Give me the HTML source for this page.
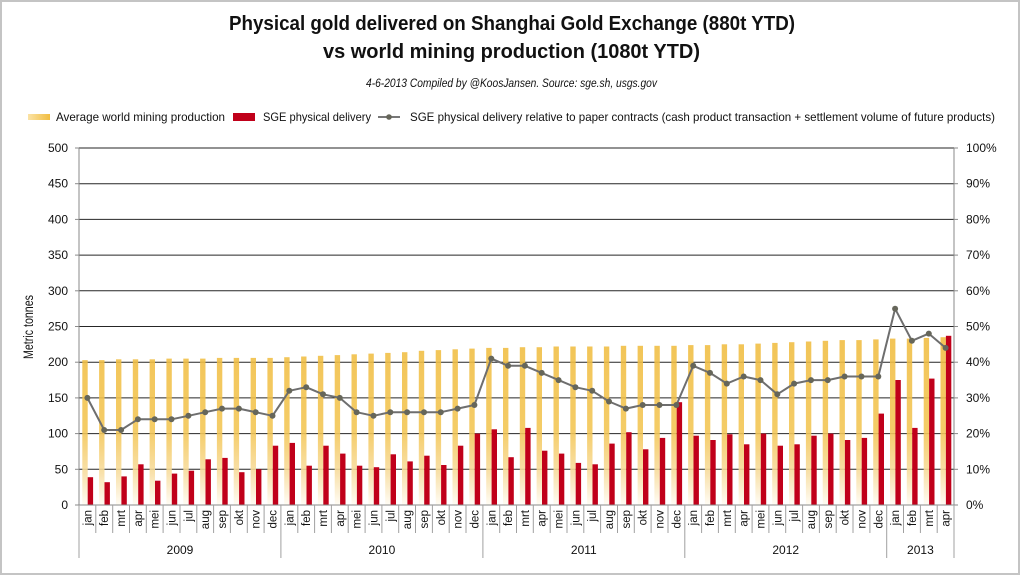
<!DOCTYPE html>
<html><head><meta charset="utf-8"><style>
html,body{margin:0;padding:0;background:#fff;}
svg{display:block;}
text{font-family:"Liberation Sans",sans-serif;fill:#111;}
</style></head><body>
<svg width="1023" height="576" viewBox="0 0 1023 576" xmlns="http://www.w3.org/2000/svg">
<defs>
<linearGradient id="gg" gradientUnits="userSpaceOnUse" x1="0" y1="337" x2="0" y2="505">
<stop offset="0" stop-color="#F1BD40"/>
<stop offset="0.55" stop-color="#F3C552"/>
<stop offset="0.8" stop-color="#F8DC9C"/>
<stop offset="1" stop-color="#FFFCF4"/>
</linearGradient>
<linearGradient id="lg" x1="0" y1="0" x2="1" y2="0">
<stop offset="0" stop-color="#FBE3A6"/>
<stop offset="1" stop-color="#F1BD40"/>
</linearGradient>
</defs>
<rect x="0" y="0" width="1023" height="576" fill="#fff"/>
<rect x="1" y="1" width="1018" height="573" fill="none" stroke="#c4c4c4" stroke-width="2"/>

<!-- Title -->
<text x="512" y="30" text-anchor="middle" font-size="20" font-weight="bold" textLength="566" lengthAdjust="spacingAndGlyphs">Physical gold delivered on Shanghai Gold Exchange (880t YTD)</text>
<text x="511.5" y="58" text-anchor="middle" font-size="20" font-weight="bold" textLength="377" lengthAdjust="spacingAndGlyphs">vs world mining production (1080t YTD)</text>
<text x="511.5" y="87" text-anchor="middle" font-size="11.5" font-style="italic" textLength="291" lengthAdjust="spacingAndGlyphs">4-6-2013 Compiled by @KoosJansen. Source: sge.sh, usgs.gov</text>

<!-- Legend -->
<rect x="28" y="114" width="22" height="6" fill="url(#lg)"/>
<text x="56" y="121" font-size="12" textLength="169" lengthAdjust="spacingAndGlyphs">Average world mining production</text>
<rect x="233" y="113" width="22" height="8" fill="#C0001A"/>
<text x="263" y="121" font-size="12" textLength="108" lengthAdjust="spacingAndGlyphs">SGE physical delivery</text>
<line x1="378" y1="117" x2="400" y2="117" stroke="#777" stroke-width="2"/>
<circle cx="389" cy="117" r="2.8" fill="#66665a"/>
<text x="410" y="121" font-size="12" textLength="585" lengthAdjust="spacingAndGlyphs">SGE physical delivery relative to paper contracts (cash product transaction + settlement volume of future products)</text>

<!-- Gridlines -->
<g stroke="#262626" stroke-width="1">
<line x1="79" y1="469.3" x2="954" y2="469.3"/>
<line x1="79" y1="433.6" x2="954" y2="433.6"/>
<line x1="79" y1="397.9" x2="954" y2="397.9"/>
<line x1="79" y1="362.2" x2="954" y2="362.2"/>
<line x1="79" y1="326.5" x2="954" y2="326.5"/>
<line x1="79" y1="290.8" x2="954" y2="290.8"/>
<line x1="79" y1="255.1" x2="954" y2="255.1"/>
<line x1="79" y1="219.4" x2="954" y2="219.4"/>
<line x1="79" y1="183.7" x2="954" y2="183.7"/>
<line x1="79" y1="148" x2="954" y2="148"/>
</g>

<!-- Gold bars -->
<g fill="url(#gg)" opacity="0.88">
<rect x="82.3" y="360.1" width="5.4" height="144.9"/>
<rect x="99.1" y="360.1" width="5.4" height="144.9"/>
<rect x="116.0" y="359.3" width="5.4" height="145.7"/>
<rect x="132.8" y="359.3" width="5.4" height="145.7"/>
<rect x="149.6" y="359.3" width="5.4" height="145.7"/>
<rect x="166.4" y="358.6" width="5.4" height="146.4"/>
<rect x="183.3" y="358.6" width="5.4" height="146.4"/>
<rect x="200.1" y="358.6" width="5.4" height="146.4"/>
<rect x="216.9" y="357.9" width="5.4" height="147.1"/>
<rect x="233.7" y="357.9" width="5.4" height="147.1"/>
<rect x="250.6" y="357.9" width="5.4" height="147.1"/>
<rect x="267.4" y="357.9" width="5.4" height="147.1"/>
<rect x="284.2" y="357.2" width="5.4" height="147.8"/>
<rect x="301.1" y="356.5" width="5.4" height="148.5"/>
<rect x="317.9" y="355.8" width="5.4" height="149.2"/>
<rect x="334.7" y="355.1" width="5.4" height="149.9"/>
<rect x="351.5" y="354.3" width="5.4" height="150.7"/>
<rect x="368.4" y="353.6" width="5.4" height="151.4"/>
<rect x="385.2" y="352.9" width="5.4" height="152.1"/>
<rect x="402.0" y="352.2" width="5.4" height="152.8"/>
<rect x="418.8" y="350.8" width="5.4" height="154.2"/>
<rect x="435.7" y="350.1" width="5.4" height="154.9"/>
<rect x="452.5" y="349.3" width="5.4" height="155.7"/>
<rect x="469.3" y="348.6" width="5.4" height="156.4"/>
<rect x="486.2" y="347.9" width="5.4" height="157.1"/>
<rect x="503.0" y="347.9" width="5.4" height="157.1"/>
<rect x="519.8" y="347.2" width="5.4" height="157.8"/>
<rect x="536.6" y="347.2" width="5.4" height="157.8"/>
<rect x="553.5" y="346.5" width="5.4" height="158.5"/>
<rect x="570.3" y="346.5" width="5.4" height="158.5"/>
<rect x="587.1" y="346.5" width="5.4" height="158.5"/>
<rect x="603.9" y="346.5" width="5.4" height="158.5"/>
<rect x="620.8" y="345.8" width="5.4" height="159.2"/>
<rect x="637.6" y="345.8" width="5.4" height="159.2"/>
<rect x="654.4" y="345.8" width="5.4" height="159.2"/>
<rect x="671.3" y="345.8" width="5.4" height="159.2"/>
<rect x="688.1" y="345.1" width="5.4" height="159.9"/>
<rect x="704.9" y="345.1" width="5.4" height="159.9"/>
<rect x="721.7" y="344.3" width="5.4" height="160.7"/>
<rect x="738.6" y="344.3" width="5.4" height="160.7"/>
<rect x="755.4" y="343.6" width="5.4" height="161.4"/>
<rect x="772.2" y="342.9" width="5.4" height="162.1"/>
<rect x="789.0" y="342.2" width="5.4" height="162.8"/>
<rect x="805.9" y="341.5" width="5.4" height="163.5"/>
<rect x="822.7" y="340.8" width="5.4" height="164.2"/>
<rect x="839.5" y="340.1" width="5.4" height="164.9"/>
<rect x="856.3" y="340.1" width="5.4" height="164.9"/>
<rect x="873.2" y="339.4" width="5.4" height="165.6"/>
<rect x="890.0" y="338.6" width="5.4" height="166.4"/>
<rect x="906.8" y="338.6" width="5.4" height="166.4"/>
<rect x="923.7" y="337.9" width="5.4" height="167.1"/>
<rect x="940.5" y="337.2" width="5.4" height="167.8"/>
</g>

<!-- Red bars -->
<g fill="#C0001A">
<rect x="87.7" y="477.2" width="5.4" height="27.8"/>
<rect x="104.5" y="482.2" width="5.4" height="22.8"/>
<rect x="121.4" y="476.4" width="5.4" height="28.6"/>
<rect x="138.2" y="464.3" width="5.4" height="40.7"/>
<rect x="155.0" y="480.7" width="5.4" height="24.3"/>
<rect x="171.8" y="473.6" width="5.4" height="31.4"/>
<rect x="188.7" y="470.7" width="5.4" height="34.3"/>
<rect x="205.5" y="459.3" width="5.4" height="45.7"/>
<rect x="222.3" y="457.9" width="5.4" height="47.1"/>
<rect x="239.1" y="472.2" width="5.4" height="32.8"/>
<rect x="256.0" y="469.3" width="5.4" height="35.7"/>
<rect x="272.8" y="445.7" width="5.4" height="59.3"/>
<rect x="289.6" y="442.9" width="5.4" height="62.1"/>
<rect x="306.5" y="465.7" width="5.4" height="39.3"/>
<rect x="323.3" y="445.7" width="5.4" height="59.3"/>
<rect x="340.1" y="453.6" width="5.4" height="51.4"/>
<rect x="356.9" y="465.7" width="5.4" height="39.3"/>
<rect x="373.8" y="467.2" width="5.4" height="37.8"/>
<rect x="390.6" y="454.3" width="5.4" height="50.7"/>
<rect x="407.4" y="461.4" width="5.4" height="43.6"/>
<rect x="424.2" y="455.7" width="5.4" height="49.3"/>
<rect x="441.1" y="465.0" width="5.4" height="40.0"/>
<rect x="457.9" y="445.7" width="5.4" height="59.3"/>
<rect x="474.7" y="433.6" width="5.4" height="71.4"/>
<rect x="491.6" y="429.3" width="5.4" height="75.7"/>
<rect x="508.4" y="457.2" width="5.4" height="47.8"/>
<rect x="525.2" y="427.9" width="5.4" height="77.1"/>
<rect x="542.0" y="450.7" width="5.4" height="54.3"/>
<rect x="558.9" y="453.6" width="5.4" height="51.4"/>
<rect x="575.7" y="462.9" width="5.4" height="42.1"/>
<rect x="592.5" y="464.3" width="5.4" height="40.7"/>
<rect x="609.3" y="443.6" width="5.4" height="61.4"/>
<rect x="626.2" y="432.2" width="5.4" height="72.8"/>
<rect x="643.0" y="449.3" width="5.4" height="55.7"/>
<rect x="659.8" y="437.9" width="5.4" height="67.1"/>
<rect x="676.7" y="402.2" width="5.4" height="102.8"/>
<rect x="693.5" y="435.7" width="5.4" height="69.3"/>
<rect x="710.3" y="440.0" width="5.4" height="65.0"/>
<rect x="727.1" y="434.3" width="5.4" height="70.7"/>
<rect x="744.0" y="444.3" width="5.4" height="60.7"/>
<rect x="760.8" y="433.6" width="5.4" height="71.4"/>
<rect x="777.6" y="445.7" width="5.4" height="59.3"/>
<rect x="794.4" y="444.3" width="5.4" height="60.7"/>
<rect x="811.3" y="435.7" width="5.4" height="69.3"/>
<rect x="828.1" y="433.6" width="5.4" height="71.4"/>
<rect x="844.9" y="440.0" width="5.4" height="65.0"/>
<rect x="861.7" y="437.9" width="5.4" height="67.1"/>
<rect x="878.6" y="413.6" width="5.4" height="91.4"/>
<rect x="895.4" y="380.0" width="5.4" height="125.0"/>
<rect x="912.2" y="427.9" width="5.4" height="77.1"/>
<rect x="929.1" y="378.6" width="5.4" height="126.4"/>
<rect x="945.9" y="335.8" width="5.4" height="169.2"/>
</g>

<!-- Axes -->
<g stroke="#8a8a8a" stroke-width="1">
<line x1="79" y1="148" x2="79" y2="505"/>
<line x1="954" y1="148" x2="954" y2="505"/>
<line x1="79" y1="505" x2="954" y2="505"/>
<line x1="75" y1="148" x2="79" y2="148"/><line x1="75" y1="183.7" x2="79" y2="183.7"/><line x1="75" y1="219.4" x2="79" y2="219.4"/><line x1="75" y1="255.1" x2="79" y2="255.1"/><line x1="75" y1="290.8" x2="79" y2="290.8"/><line x1="75" y1="326.5" x2="79" y2="326.5"/><line x1="75" y1="362.2" x2="79" y2="362.2"/><line x1="75" y1="397.9" x2="79" y2="397.9"/><line x1="75" y1="433.6" x2="79" y2="433.6"/><line x1="75" y1="469.3" x2="79" y2="469.3"/><line x1="75" y1="505" x2="79" y2="505"/>
<line x1="954" y1="148" x2="958" y2="148"/><line x1="954" y1="183.7" x2="958" y2="183.7"/><line x1="954" y1="219.4" x2="958" y2="219.4"/><line x1="954" y1="255.1" x2="958" y2="255.1"/><line x1="954" y1="290.8" x2="958" y2="290.8"/><line x1="954" y1="326.5" x2="958" y2="326.5"/><line x1="954" y1="362.2" x2="958" y2="362.2"/><line x1="954" y1="397.9" x2="958" y2="397.9"/><line x1="954" y1="433.6" x2="958" y2="433.6"/><line x1="954" y1="469.3" x2="958" y2="469.3"/><line x1="954" y1="505" x2="958" y2="505"/>
</g>

<!-- Category separators -->
<g stroke="#a0a0a0" stroke-width="1">
<line x1="79" y1="505" x2="79" y2="558"/>
<line x1="95.8" y1="505" x2="95.8" y2="533"/><line x1="112.7" y1="505" x2="112.7" y2="533"/><line x1="129.5" y1="505" x2="129.5" y2="533"/><line x1="146.3" y1="505" x2="146.3" y2="533"/><line x1="163.1" y1="505" x2="163.1" y2="533"/><line x1="180.0" y1="505" x2="180.0" y2="533"/><line x1="196.8" y1="505" x2="196.8" y2="533"/><line x1="213.6" y1="505" x2="213.6" y2="533"/><line x1="230.4" y1="505" x2="230.4" y2="533"/><line x1="247.3" y1="505" x2="247.3" y2="533"/><line x1="264.1" y1="505" x2="264.1" y2="533"/>
<line x1="280.9" y1="505" x2="280.9" y2="558"/>
<line x1="297.8" y1="505" x2="297.8" y2="533"/><line x1="314.6" y1="505" x2="314.6" y2="533"/><line x1="331.4" y1="505" x2="331.4" y2="533"/><line x1="348.2" y1="505" x2="348.2" y2="533"/><line x1="365.1" y1="505" x2="365.1" y2="533"/><line x1="381.9" y1="505" x2="381.9" y2="533"/><line x1="398.7" y1="505" x2="398.7" y2="533"/><line x1="415.5" y1="505" x2="415.5" y2="533"/><line x1="432.4" y1="505" x2="432.4" y2="533"/><line x1="449.2" y1="505" x2="449.2" y2="533"/><line x1="466.0" y1="505" x2="466.0" y2="533"/>
<line x1="482.9" y1="505" x2="482.9" y2="558"/>
<line x1="499.7" y1="505" x2="499.7" y2="533"/><line x1="516.5" y1="505" x2="516.5" y2="533"/><line x1="533.3" y1="505" x2="533.3" y2="533"/><line x1="550.2" y1="505" x2="550.2" y2="533"/><line x1="567.0" y1="505" x2="567.0" y2="533"/><line x1="583.8" y1="505" x2="583.8" y2="533"/><line x1="600.6" y1="505" x2="600.6" y2="533"/><line x1="617.5" y1="505" x2="617.5" y2="533"/><line x1="634.3" y1="505" x2="634.3" y2="533"/><line x1="651.1" y1="505" x2="651.1" y2="533"/><line x1="668.0" y1="505" x2="668.0" y2="533"/>
<line x1="684.8" y1="505" x2="684.8" y2="558"/>
<line x1="701.6" y1="505" x2="701.6" y2="533"/><line x1="718.4" y1="505" x2="718.4" y2="533"/><line x1="735.3" y1="505" x2="735.3" y2="533"/><line x1="752.1" y1="505" x2="752.1" y2="533"/><line x1="768.9" y1="505" x2="768.9" y2="533"/><line x1="785.7" y1="505" x2="785.7" y2="533"/><line x1="802.6" y1="505" x2="802.6" y2="533"/><line x1="819.4" y1="505" x2="819.4" y2="533"/><line x1="836.2" y1="505" x2="836.2" y2="533"/><line x1="853.0" y1="505" x2="853.0" y2="533"/><line x1="869.9" y1="505" x2="869.9" y2="533"/>
<line x1="886.7" y1="505" x2="886.7" y2="558"/>
<line x1="903.5" y1="505" x2="903.5" y2="533"/><line x1="920.4" y1="505" x2="920.4" y2="533"/><line x1="937.2" y1="505" x2="937.2" y2="533"/>
<line x1="954" y1="505" x2="954" y2="558"/>
</g>

<!-- Line series -->
<polyline fill="none" stroke="#6e6e6e" stroke-width="2" stroke-linejoin="round" points="87.4,397.9 104.2,430.0 121.1,430.0 137.9,419.3 154.7,419.3 171.5,419.3 188.4,415.8 205.2,412.2 222.0,408.6 238.9,408.6 255.7,412.2 272.5,415.8 289.3,390.8 306.2,387.2 323.0,394.3 339.8,397.9 356.6,412.2 373.5,415.8 390.3,412.2 407.1,412.2 424.0,412.2 440.8,412.2 457.6,408.6 474.4,405.0 491.3,358.6 508.1,365.8 524.9,365.8 541.7,372.9 558.6,380.1 575.4,387.2 592.2,390.8 609.0,401.5 625.9,408.6 642.7,405.0 659.5,405.0 676.4,405.0 693.2,365.8 710.0,372.9 726.8,383.6 743.7,376.5 760.5,380.1 777.3,394.3 794.1,383.6 811.0,380.1 827.8,380.1 844.6,376.5 861.5,376.5 878.3,376.5 895.1,308.7 911.9,340.8 928.8,333.6 945.6,347.9"/>
<g fill="#66665a">
<circle cx="87.4" cy="397.9" r="3"/><circle cx="104.2" cy="430.0" r="3"/><circle cx="121.1" cy="430.0" r="3"/><circle cx="137.9" cy="419.3" r="3"/><circle cx="154.7" cy="419.3" r="3"/><circle cx="171.5" cy="419.3" r="3"/><circle cx="188.4" cy="415.8" r="3"/><circle cx="205.2" cy="412.2" r="3"/><circle cx="222.0" cy="408.6" r="3"/><circle cx="238.9" cy="408.6" r="3"/><circle cx="255.7" cy="412.2" r="3"/><circle cx="272.5" cy="415.8" r="3"/>
<circle cx="289.3" cy="390.8" r="3"/><circle cx="306.2" cy="387.2" r="3"/><circle cx="323.0" cy="394.3" r="3"/><circle cx="339.8" cy="397.9" r="3"/><circle cx="356.6" cy="412.2" r="3"/><circle cx="373.5" cy="415.8" r="3"/><circle cx="390.3" cy="412.2" r="3"/><circle cx="407.1" cy="412.2" r="3"/><circle cx="424.0" cy="412.2" r="3"/><circle cx="440.8" cy="412.2" r="3"/><circle cx="457.6" cy="408.6" r="3"/><circle cx="474.4" cy="405.0" r="3"/>
<circle cx="491.3" cy="358.6" r="3"/><circle cx="508.1" cy="365.8" r="3"/><circle cx="524.9" cy="365.8" r="3"/><circle cx="541.7" cy="372.9" r="3"/><circle cx="558.6" cy="380.1" r="3"/><circle cx="575.4" cy="387.2" r="3"/><circle cx="592.2" cy="390.8" r="3"/><circle cx="609.0" cy="401.5" r="3"/><circle cx="625.9" cy="408.6" r="3"/><circle cx="642.7" cy="405.0" r="3"/><circle cx="659.5" cy="405.0" r="3"/><circle cx="676.4" cy="405.0" r="3"/>
<circle cx="693.2" cy="365.8" r="3"/><circle cx="710.0" cy="372.9" r="3"/><circle cx="726.8" cy="383.6" r="3"/><circle cx="743.7" cy="376.5" r="3"/><circle cx="760.5" cy="380.1" r="3"/><circle cx="777.3" cy="394.3" r="3"/><circle cx="794.1" cy="383.6" r="3"/><circle cx="811.0" cy="380.1" r="3"/><circle cx="827.8" cy="380.1" r="3"/><circle cx="844.6" cy="376.5" r="3"/><circle cx="861.5" cy="376.5" r="3"/><circle cx="878.3" cy="376.5" r="3"/>
<circle cx="895.1" cy="308.7" r="3"/><circle cx="911.9" cy="340.8" r="3"/><circle cx="928.8" cy="333.6" r="3"/><circle cx="945.6" cy="347.9" r="3"/>
</g>

<!-- Left axis labels -->
<g font-size="12" text-anchor="end">
<text x="68" y="152">500</text>
<text x="68" y="187.7">450</text>
<text x="68" y="223.4">400</text>
<text x="68" y="259.1">350</text>
<text x="68" y="294.8">300</text>
<text x="68" y="330.5">250</text>
<text x="68" y="366.2">200</text>
<text x="68" y="401.9">150</text>
<text x="68" y="437.6">100</text>
<text x="68" y="473.3">50</text>
<text x="68" y="509">0</text>
</g>
<!-- Right axis labels -->
<g font-size="12" text-anchor="start">
<text x="966" y="152">100%</text>
<text x="966" y="187.7">90%</text>
<text x="966" y="223.4">80%</text>
<text x="966" y="259.1">70%</text>
<text x="966" y="294.8">60%</text>
<text x="966" y="330.5">50%</text>
<text x="966" y="366.2">40%</text>
<text x="966" y="401.9">30%</text>
<text x="966" y="437.6">20%</text>
<text x="966" y="473.3">10%</text>
<text x="966" y="509">0%</text>
</g>
<text transform="translate(33,327) rotate(-90)" text-anchor="middle" font-size="14" textLength="64" lengthAdjust="spacingAndGlyphs">Metric tonnes</text>

<!-- Month labels -->
<g font-size="11.5" text-anchor="end">
<text transform="translate(91.4,510) rotate(-90)">jan</text>
<text transform="translate(108.2,510) rotate(-90)">feb</text>
<text transform="translate(125.1,510) rotate(-90)">mrt</text>
<text transform="translate(141.9,510) rotate(-90)">apr</text>
<text transform="translate(158.7,510) rotate(-90)">mei</text>
<text transform="translate(175.5,510) rotate(-90)">jun</text>
<text transform="translate(192.4,510) rotate(-90)">jul</text>
<text transform="translate(209.2,510) rotate(-90)">aug</text>
<text transform="translate(226.0,510) rotate(-90)">sep</text>
<text transform="translate(242.9,510) rotate(-90)">okt</text>
<text transform="translate(259.7,510) rotate(-90)">nov</text>
<text transform="translate(276.5,510) rotate(-90)">dec</text>
<text transform="translate(293.3,510) rotate(-90)">jan</text>
<text transform="translate(310.2,510) rotate(-90)">feb</text>
<text transform="translate(327.0,510) rotate(-90)">mrt</text>
<text transform="translate(343.8,510) rotate(-90)">apr</text>
<text transform="translate(360.6,510) rotate(-90)">mei</text>
<text transform="translate(377.5,510) rotate(-90)">jun</text>
<text transform="translate(394.3,510) rotate(-90)">jul</text>
<text transform="translate(411.1,510) rotate(-90)">aug</text>
<text transform="translate(428.0,510) rotate(-90)">sep</text>
<text transform="translate(444.8,510) rotate(-90)">okt</text>
<text transform="translate(461.6,510) rotate(-90)">nov</text>
<text transform="translate(478.4,510) rotate(-90)">dec</text>
<text transform="translate(495.3,510) rotate(-90)">jan</text>
<text transform="translate(512.1,510) rotate(-90)">feb</text>
<text transform="translate(528.9,510) rotate(-90)">mrt</text>
<text transform="translate(545.7,510) rotate(-90)">apr</text>
<text transform="translate(562.6,510) rotate(-90)">mei</text>
<text transform="translate(579.4,510) rotate(-90)">jun</text>
<text transform="translate(596.2,510) rotate(-90)">jul</text>
<text transform="translate(613.0,510) rotate(-90)">aug</text>
<text transform="translate(629.9,510) rotate(-90)">sep</text>
<text transform="translate(646.7,510) rotate(-90)">okt</text>
<text transform="translate(663.5,510) rotate(-90)">nov</text>
<text transform="translate(680.4,510) rotate(-90)">dec</text>
<text transform="translate(697.2,510) rotate(-90)">jan</text>
<text transform="translate(714.0,510) rotate(-90)">feb</text>
<text transform="translate(730.8,510) rotate(-90)">mrt</text>
<text transform="translate(747.7,510) rotate(-90)">apr</text>
<text transform="translate(764.5,510) rotate(-90)">mei</text>
<text transform="translate(781.3,510) rotate(-90)">jun</text>
<text transform="translate(798.1,510) rotate(-90)">jul</text>
<text transform="translate(815.0,510) rotate(-90)">aug</text>
<text transform="translate(831.8,510) rotate(-90)">sep</text>
<text transform="translate(848.6,510) rotate(-90)">okt</text>
<text transform="translate(865.5,510) rotate(-90)">nov</text>
<text transform="translate(882.3,510) rotate(-90)">dec</text>
<text transform="translate(899.1,510) rotate(-90)">jan</text>
<text transform="translate(915.9,510) rotate(-90)">feb</text>
<text transform="translate(932.8,510) rotate(-90)">mrt</text>
<text transform="translate(949.6,510) rotate(-90)">apr</text>
</g>

<!-- Year labels -->
<g font-size="12" text-anchor="middle">
<text x="180" y="554">2009</text>
<text x="381.9" y="554">2010</text>
<text x="583.8" y="554">2011</text>
<text x="785.7" y="554">2012</text>
<text x="920.4" y="554">2013</text>
</g>
</svg>
</body></html>
